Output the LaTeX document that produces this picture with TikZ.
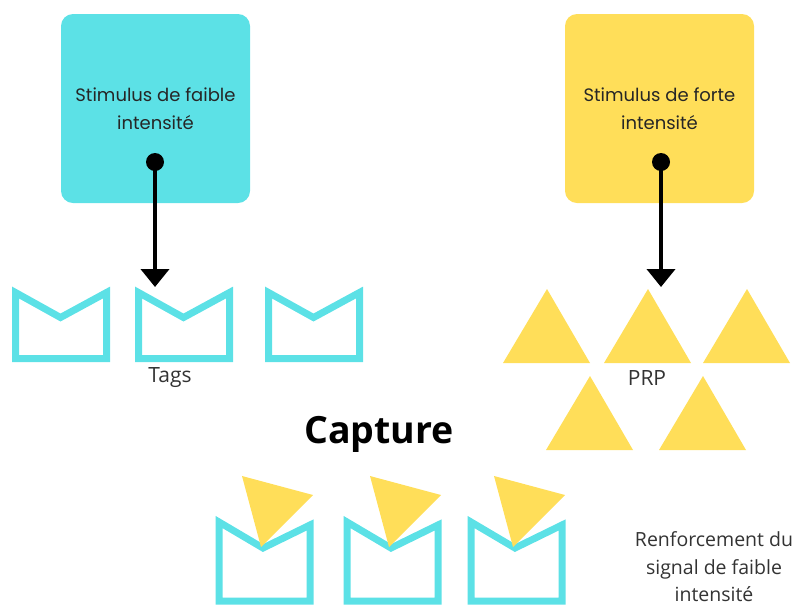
\documentclass[tikz,border=0pt]{standalone}
\usepackage{fontspec}
\setmainfont{Open Sans}
\newfontfamily\boxfont{Poppins}
\usetikzlibrary{arrows.meta}
\definecolor{tagcyan}{HTML}{5CE1E6}
\definecolor{prpyellow}{HTML}{FFDE59}
\definecolor{labelgray}{HTML}{333333}
\tikzset{
  stimbox/.style={rounded corners=12pt, minimum width=189pt, minimum height=189pt,
    inner sep=0pt, align=center, font=\boxfont\fontsize{18}{28}\selectfont, text=black!85},
  dotnode/.style={circle, fill=black, inner sep=0pt, minimum size=18pt},
  arr/.style={line width=4pt, -{Triangle[width=28pt,length=18pt]}},
  tagline/.style={draw=tagcyan, line width=7pt, line join=miter},
  prp/.style={fill=prpyellow},
  lbl/.style={font=\fontsize{19.5}{27.5}\selectfont, text=labelgray, align=center, inner sep=0pt},
  tagtop/.pic={\draw[tagline] (0,0) -- (45,25) -- (91,0) -- (91,66) -- (0,66) -- cycle;},
  tagbot/.pic={\draw[tagline] (0,0) -- (44,26) -- (91,3) -- (91,79) -- (0,79) -- cycle;
               \fill[prp] (23,-46) -- (94,-27) -- (42,25) -- cycle;},
  prptri/.pic={\fill[prp] (0,0) -- (87,0) -- (44,-74) -- cycle;}
}
\begin{document}
\begin{tikzpicture}[x=1pt, y=-1pt]
\useasboundingbox (0,0) rectangle (794,606);

% stimulus boxes
\node[stimbox, fill=tagcyan] (weak) at (155.5,108.5) {Stimulus de faible\\intensité};
\node[stimbox, fill=prpyellow] (strong) at (659.5,108.5) {Stimulus de forte\\intensité};

% tags (top row)
\pic at (15.5,292.5) {tagtop};
\pic at (138.5,292.5) {tagtop};
\pic at (268.5,292.5) {tagtop};
\node[lbl, font=\fontsize{21}{28}\selectfont] (tags) at (170,378) {Tags};

% PRP triangles
\pic at (503,363) {prptri};
\pic at (604,363) {prptri};
\pic at (703,363) {prptri};
\pic at (546,450) {prptri};
\pic at (659,450) {prptri};
\node[lbl, font=\fontsize{21}{28}\selectfont] (prp) at (647,378) {PRP};

% arrows
\node[dotnode] (wdot) at (155,162) {};
\coordinate (wtip) at (155,287);
\draw[arr] (wdot.center) -- (wtip);
\node[dotnode] (sdot) at (661,162) {};
\coordinate (stip) at (661,287);
\draw[arr] (sdot.center) -- (stip);

% capture
\node[font=\bfseries\fontsize{37.5}{40}\selectfont, inner sep=0pt] (capture) at (379,434) {Capture};

\pic at (219,522) {tagbot};
\pic at (347,522) {tagbot};
\pic at (471,522) {tagbot};

\node[lbl] (renf) at (714,567) {Renforcement du\\signal de faible\\intensité};
\end{tikzpicture}
\end{document}
